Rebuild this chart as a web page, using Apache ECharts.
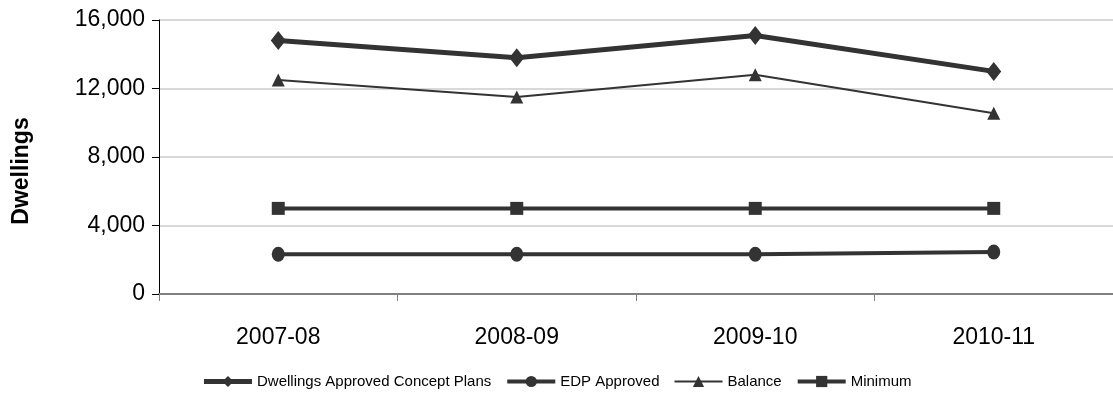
<!DOCTYPE html>
<html>
<head>
<meta charset="utf-8">
<script src="https://cdn.jsdelivr.net/npm/echarts@6/dist/echarts.min.js"></script>
<style>html,body{margin:0;padding:0;background:#fff}#c{width:1113px;height:399px}</style>
</head>
<body>
<div id="c"></div>
<script>
const categories = ['2007-08', '2008-09', '2009-10', '2010-11'];
const dwellingsApproved = [14800, 13800, 15100, 13000];
const edpApproved = [2320, 2320, 2320, 2450];
const balance = [12500, 11500, 12800, 10550];
const minimum = [5000, 5000, 5000, 5000];
const yTicks = [0, 4000, 8000, 12000, 16000];
const seriesNames = ['Dwellings Approved Concept Plans', 'EDP Approved', 'Balance', 'Minimum'];

const FONT = 'Liberation Sans, Arial, sans-serif';
const chart = echarts.init(document.getElementById('c'), null, {renderer: 'canvas'});
const dark = '#333333';
const widths = [5, 4, 2, 4];
function fmt(v){ return v.toLocaleString('en-US'); }
chart.setOption({
  animation: false,
  backgroundColor: '#fff',
  grid: {left: 159, right: -6, top: 20, bottom: 105, containLabel: false},
  legend: {
    top: 369, left: 'center', itemWidth: 48, itemHeight: 14, itemGap: 14,
    textStyle: {fontFamily: FONT, fontSize: 15, color: '#000'},
    data: seriesNames.map((n, i) => ({name: n, lineStyle: {width: widths[i], color: dark}}))
  },
  xAxis: {
    type: 'category', data: categories, boundaryGap: true,
    axisLine: {lineStyle: {color: '#808080', width: 2}},
    axisTick: {show: true, length: 7, lineStyle: {color: '#808080'}},
    axisLabel: {fontFamily: FONT, fontSize: 23, color: '#000', margin: 32}
  },
  yAxis: {
    type: 'value', min: yTicks[0], max: yTicks[yTicks.length-1], interval: 4000,
    name: 'Dwellings', nameLocation: 'middle', nameGap: 126, nameRotate: 90,
    nameTextStyle: {fontFamily: FONT, fontSize: 23, fontWeight: 'bold', color: '#000', padding: [0, 28, 0, 0]},
    axisLine: {show: true, lineStyle: {color: '#000', width: 1}},
    axisTick: {show: true, length: 7, lineStyle: {color: '#000'}},
    axisLabel: {fontFamily: FONT, fontSize: 23, color: '#000', margin: 14, formatter: fmt},
    splitLine: {lineStyle: {color: '#d9d9d9', width: 2}}
  },
  series: [
    {name: seriesNames[0], type: 'line', data: dwellingsApproved,
     symbol: 'diamond', symbolSize: [15, 19],
     lineStyle: {color: dark, width: widths[0]}, itemStyle: {color: dark}},
    {name: seriesNames[1], type: 'line', data: edpApproved,
     symbol: 'circle', symbolSize: [13, 15],
     lineStyle: {color: dark, width: widths[1]}, itemStyle: {color: dark}},
    {name: seriesNames[2], type: 'line', data: balance,
     symbol: 'triangle', symbolSize: [13, 13],
     lineStyle: {color: dark, width: widths[2]}, itemStyle: {color: dark}},
    {name: seriesNames[3], type: 'line', data: minimum,
     symbol: 'rect', symbolSize: [13, 13],
     lineStyle: {color: dark, width: widths[3]}, itemStyle: {color: dark}}
  ]
});
</script>
</body>
</html>
